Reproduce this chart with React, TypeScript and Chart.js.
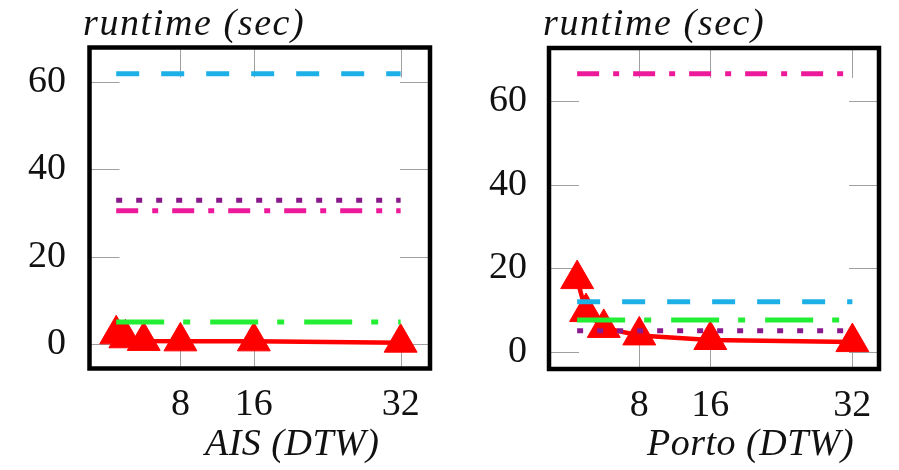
import React, { useEffect, useRef } from "react";
import { Chart, registerables } from "chart.js";

Chart.register(...registerables);

// ---- data ----
const THREADS = [1, 2, 4, 8, 16, 32];
const X_TICKS = [8, 16, 32];
const Y_TICKS = [0, 20, 40, 60];

const AIS_RED = [2.3, 1.4, 0.8, 0.7, 0.7, 0.4];
const AIS_CYAN = 61.8;
const AIS_PURPLE = 32.9;
const AIS_MAGENTA = 30.5;
const AIS_GREEN = 5.1;

const PORTO_RED = [17.4, 9.5, 5.7, 3.9, 2.8, 2.3];
const PORTO_MAGENTA = 66.6;
const PORTO_CYAN = 12.0;
const PORTO_GREEN = 7.6;
const PORTO_PURPLE = 5.0;

const Y_TITLE = "runtime (sec)";
const AIS_XLABEL = "AIS (DTW)";
const PORTO_XLABEL = "Porto (DTW)";

// ---- styles ----
const CYAN = "#1cb0e6";
const MAGENTA = "#ec1a9a";
const PURPLE = "#8a1a8c";
const GREEN = "#22ee33";
const RED = "#ff0000";
const FONT = "'Liberation Serif', 'Times New Roman', serif";

function flat(v: number, color: string, dash: number[]) {
  return {
    data: [
      { x: THREADS[0], y: v },
      { x: THREADS[THREADS.length - 1], y: v },
    ],
    borderColor: color,
    borderWidth: 5,
    borderDash: dash,
    borderCapStyle: "butt",
    pointRadius: 0,
    fill: false,
    order: 1,
  };
}

function redSeries(vals: number[]) {
  return {
    data: THREADS.map((t, i) => ({ x: t, y: vals[i] })),
    borderColor: RED,
    backgroundColor: RED,
    borderWidth: 4.5,
    pointStyle: "triangle",
    pointRadius: 19,
    pointBorderWidth: 1,
    pointBackgroundColor: RED,
    pointBorderColor: RED,
    fill: false,
    order: 5,
  };
}

type Panel = {
  width: number;
  left: number;
  axisW: number;
  padRight: number;
  top: number;
  bottom: number;
  xmin: number;
  xmax: number;
  ymin: number;
  ymax: number;
  ytickPad: number;
  titleX: number;
  xlabel: string;
  xlabelX: number;
  datasets: any[];
};

const DASH_CYAN = [23, 22];
const DASH_PURPLE = [6, 14];
const DASH_MAGENTA = [22, 14, 6, 14];
const DASH_GREEN = [48, 19, 7, 20];

const panels: Panel[] = [
  {
    width: 450,
    left: 0,
    axisW: 89.5,
    padRight: 14,
    top: 47.5,
    bottom: 368.5,
    xmin: -1.91,
    xmax: 35.2,
    ymin: -5.5,
    ymax: 67.8,
    ytickPad: 23.5,
    titleX: 83,
    xlabel: AIS_XLABEL,
    xlabelX: 205,
    datasets: [
      flat(AIS_CYAN, CYAN, DASH_CYAN),
      flat(AIS_PURPLE, PURPLE, DASH_PURPLE),
      flat(AIS_MAGENTA, MAGENTA, DASH_MAGENTA),
      flat(AIS_GREEN, GREEN, DASH_GREEN),
      redSeries(AIS_RED),
    ],
  },
  {
    width: 449,
    left: 450,
    axisW: 99,
    padRight: 5,
    top: 48,
    bottom: 369,
    xmin: -2.17,
    xmax: 35.0,
    ymin: -4.15,
    ymax: 72.8,
    ytickPad: 22,
    titleX: 93,
    xlabel: PORTO_XLABEL,
    xlabelX: 197,
    datasets: [
      flat(PORTO_MAGENTA, MAGENTA, DASH_MAGENTA),
      flat(PORTO_CYAN, CYAN, DASH_CYAN),
      flat(PORTO_GREEN, GREEN, DASH_GREEN),
      flat(PORTO_PURPLE, PURPLE, DASH_PURPLE),
      redSeries(PORTO_RED),
    ],
  },
];

function makeDecor(p: Panel) {
  return {
    id: "decor",
    beforeDatasetsDraw(chart: any) {
      const ctx = chart.ctx;
      const a = chart.chartArea;
      const xs = chart.scales.x;
      const ys = chart.scales.y;
      const L = 30;
      ctx.save();
      ctx.strokeStyle = "#a0a0a0";
      ctx.lineWidth = 1;
      ctx.beginPath();
      for (const v of Y_TICKS) {
        const y = Math.round(ys.getPixelForValue(v)) + 0.5;
        ctx.moveTo(a.left, y);
        ctx.lineTo(a.left + L, y);
        ctx.moveTo(a.right - L, y);
        ctx.lineTo(a.right, y);
      }
      for (const v of X_TICKS) {
        const x = Math.round(xs.getPixelForValue(v)) + 0.5;
        ctx.moveTo(x, a.top);
        ctx.lineTo(x, a.top + L);
        ctx.moveTo(x, a.bottom - L);
        ctx.lineTo(x, a.bottom);
      }
      ctx.stroke();
      ctx.restore();
    },
    afterDraw(chart: any) {
      const ctx = chart.ctx;
      const a = chart.chartArea;
      ctx.save();
      ctx.strokeStyle = "#000";
      ctx.lineWidth = 4.5;
      ctx.strokeRect(a.left, a.top, a.right - a.left, a.bottom - a.top);
      ctx.fillStyle = "#111";
      ctx.font = `italic 38px ${FONT}`;
      ctx.textBaseline = "alphabetic";
      ctx.textAlign = "left";
      try {
        (ctx as any).letterSpacing = "1.6px";
      } catch (e) {}
      ctx.fillText(Y_TITLE, p.titleX, 35);
      try {
        (ctx as any).letterSpacing = "0.5px";
      } catch (e) {}
      ctx.fillText(p.xlabel, p.xlabelX, 455);
      ctx.restore();
    },
  };
}

function PanelChart({ p }: { p: Panel }) {
  const ref = useRef<HTMLCanvasElement | null>(null);
  useEffect(() => {
    if (!ref.current) return;
    const chart = new Chart(ref.current, {
      type: "line",
      data: { datasets: p.datasets },
      options: {
        animation: false,
        responsive: false,
        devicePixelRatio: 1,
        layout: { padding: { top: p.top, right: p.padRight, left: 0, bottom: 0 } },
        plugins: { legend: { display: false }, tooltip: { enabled: false }, title: { display: false } },
        scales: {
          x: {
            type: "linear",
            min: p.xmin,
            max: p.xmax,
            grid: { display: false, drawTicks: false },
            border: { display: false },
            afterBuildTicks: (s: any) => {
              s.ticks = X_TICKS.map((v) => ({ value: v }));
            },
            afterFit: (s: any) => {
              s.height = 470 - p.bottom;
            },
            ticks: {
              autoSkip: false,
              maxRotation: 0,
              padding: 14,
              color: "#111",
              font: { family: FONT, size: 38 },
            },
          },
          y: {
            type: "linear",
            min: p.ymin,
            max: p.ymax,
            grid: { display: false, drawTicks: false },
            border: { display: false },
            afterBuildTicks: (s: any) => {
              s.ticks = Y_TICKS.map((v) => ({ value: v }));
            },
            afterFit: (s: any) => {
              s.width = p.axisW;
            },
            ticks: {
              padding: p.ytickPad,
              color: "#111",
              font: { family: FONT, size: 38 },
            },
          },
        },
      } as any,
      plugins: [makeDecor(p)],
    });
    return () => chart.destroy();
  }, [p]);
  return (
    <canvas
      ref={ref}
      width={p.width}
      height={470}
      style={{ position: "absolute", left: p.left, top: 0, width: p.width, height: 470 }}
    />
  );
}

export default function App() {
  return (
    <div style={{ position: "absolute", left: 0, top: 0, width: 899, height: 470, background: "#fff" }}>
      {panels.map((p, i) => (
        <PanelChart key={i} p={p} />
      ))}
    </div>
  );
}
